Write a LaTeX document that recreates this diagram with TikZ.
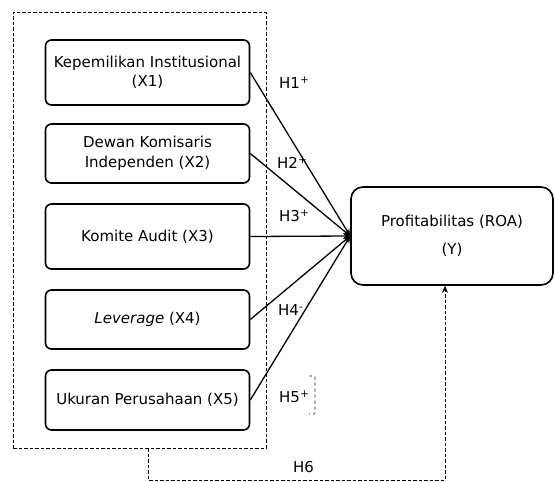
\documentclass[tikz,border=0pt]{standalone}
\usepackage{fontspec}
\setmainfont{DejaVu Sans}
\usetikzlibrary{arrows.meta}
\begin{document}
\begin{tikzpicture}[x=1pt, y=-1pt,
    varbox/.style={draw, rounded corners=6pt, line width=1.6pt, minimum width=204pt, align=center, font=\fontsize{15}{19.5}\selectfont},
    hyp/.style={anchor=west, inner sep=0pt, font=\fontsize{15}{17}\selectfont},
    path/.style={line width=1.3pt, -{Stealth[length=7pt, width=6pt]}},
    grpline/.style={dash pattern=on 3.5pt off 2pt, line width=0.8pt}]
    \useasboundingbox (0,0) rectangle (555,482);
    % variables
    \node[varbox, minimum height=65pt] (x1) at (147.5, 72.5) {Kepemilikan Institusional\\(X1)};
    \node[varbox, minimum height=59pt] (x2) at (147.5,153.5) {Dewan Komisaris\\Independen (X2)};
    \node[varbox, minimum height=65pt] (x3) at (147.5,236.5) {Komite Audit (X3)};
    \node[varbox, minimum height=59pt] (x4) at (147.5,319.5) {\textit{Leverage} (X4)};
    \node[varbox, minimum height=60pt] (x5) at (147.5,400) {Ukuran Perusahaan (X5)};
    \node[draw, rounded corners=12pt, line width=1.6pt, minimum width=202pt, minimum height=98pt, align=center, font=\fontsize{15}{28}\selectfont] (y) at (452,236) {Profitabilitas (ROA)\\(Y)};
    \node[draw, grpline, minimum width=253pt, minimum height=436pt] (grp) at (139.5,230) {};
    \coordinate (hub) at (y.west);
    % hypotheses
    \foreach \v in {1,...,5}
        \draw[path] (x\v.east) -- (hub);
    \node[hyp] (h1) at (279, 83) {H1\textsuperscript{+}};
    \node[hyp] (h2) at (277,163) {H2\textsuperscript{+}};
    \node[hyp] (h3) at (279,216) {H3\textsuperscript{+}};
    \node[hyp] (h4) at (278,310) {H4\textsuperscript{-}};
    \node[hyp] (h5) at (279,397) {H5\textsuperscript{+}};
    \draw[gray, dashed, line width=1.4pt, rounded corners=1pt] (309,376) -- (315,376) -- (315,414) -- (309,414);
    \draw[grpline, -{Stealth[length=7pt, width=6pt]}] ([xshift=8.5pt]grp.south) -- ++(0,32) -| ([xshift=-7pt]y.south);
    \node[hyp] (h6) at (293,467) {H6};
\end{tikzpicture}
\end{document}
